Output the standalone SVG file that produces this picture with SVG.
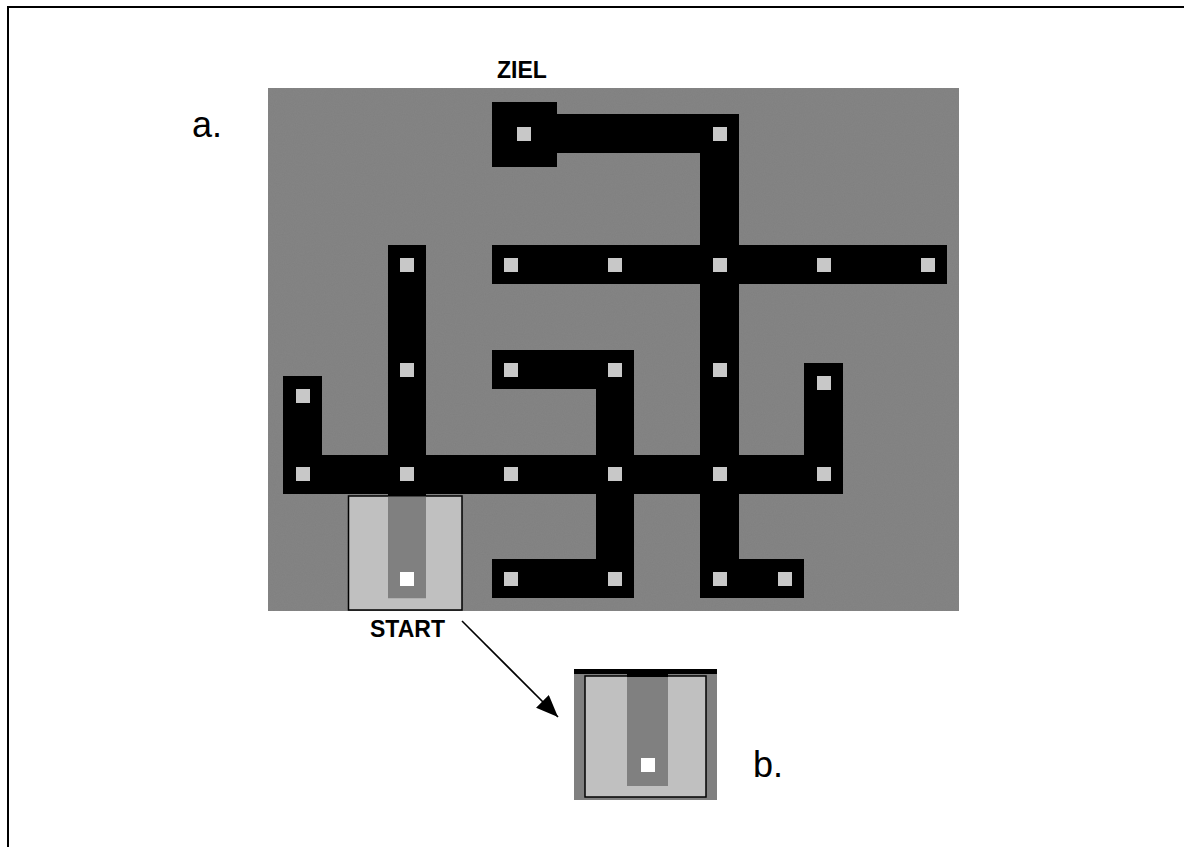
<svg xmlns="http://www.w3.org/2000/svg" width="1184" height="847" viewBox="0 0 1184 847">
<style>
.bg{fill:#808080}
.wall{fill:#000}
.dot{fill:#c8c8c8}
.lite{fill:#c0c0c0}
.lbl{font-family:"Liberation Sans",Arial,sans-serif;fill:#000}
.bold{font-weight:bold;font-size:23px}
.big{font-size:36px}
.frame{stroke:#000;stroke-width:2;fill:none}
</style>
<defs>
<filter id="noise" x="0" y="0" width="100%" height="100%">
<feTurbulence type="fractalNoise" baseFrequency="0.9" numOctaves="1" seed="3" result="t"/>
<feColorMatrix in="t" type="matrix" values="0 0 0 0 0.5  0 0 0 0 0.5  0 0 0 0 0.5  0 0 0 0.08 0" result="n"/>
<feComposite in="n" in2="SourceGraphic" operator="in" result="m"/>
<feMerge><feMergeNode in="SourceGraphic"/><feMergeNode in="m"/></feMerge>
</filter>
<marker id="ah" markerUnits="userSpaceOnUse" markerWidth="24" markerHeight="20" refX="22" refY="9" orient="auto">
<path d="M0,0 L22,9 L0,18 Z" fill="#000"/>
</marker>
</defs>
<rect width="1184" height="847" fill="#fff"/>
<path class="frame" d="M8,847 V7 H1184"/>

<g id="maze">
<rect class="bg" x="268" y="88" width="691" height="523" filter="url(#noise)"/>
<g id="ziel-piece">
<rect class="wall" x="492" y="102" width="65" height="65"/>
<rect class="wall" x="557" y="114" width="182" height="39"/>
</g>
<g id="col5-piece">
<rect class="wall" x="700" y="114" width="39" height="484"/>
<rect class="wall" x="700" y="559" width="104" height="39"/>
</g>
<g id="row2-piece">
<rect class="wall" x="492" y="245" width="455" height="39"/>
</g>
<g id="col2-piece">
<rect class="wall" x="388" y="245" width="38" height="251"/>
</g>
<g id="row4-piece">
<rect class="wall" x="283" y="376" width="39" height="118"/>
<rect class="wall" x="283" y="455" width="560" height="39"/>
</g>
<g id="col6-piece">
<rect class="wall" x="804" y="363" width="39" height="131"/>
</g>
<g id="row3-piece">
<rect class="wall" x="492" y="350" width="142" height="39"/>
<rect class="wall" x="596" y="350" width="38" height="248"/>
<rect class="wall" x="492" y="559" width="142" height="39"/>
</g>
<g id="dots">
<rect class="dot" x="517" y="127" width="14" height="14"/>
<rect class="dot" x="713" y="127" width="14" height="14"/>
<rect class="dot" x="400" y="258" width="14" height="14"/>
<rect class="dot" x="504" y="258" width="14" height="14"/>
<rect class="dot" x="608" y="258" width="14" height="14"/>
<rect class="dot" x="713" y="258" width="14" height="14"/>
<rect class="dot" x="817" y="258" width="14" height="14"/>
<rect class="dot" x="921" y="258" width="14" height="14"/>
<rect class="dot" x="400" y="363" width="14" height="14"/>
<rect class="dot" x="504" y="363" width="14" height="14"/>
<rect class="dot" x="608" y="363" width="14" height="14"/>
<rect class="dot" x="713" y="363" width="14" height="14"/>
<rect class="dot" x="296" y="389" width="14" height="14"/>
<rect class="dot" x="817" y="376" width="14" height="14"/>
<rect class="dot" x="296" y="467" width="14" height="14"/>
<rect class="dot" x="400" y="467" width="14" height="14"/>
<rect class="dot" x="504" y="467" width="14" height="14"/>
<rect class="dot" x="608" y="467" width="14" height="14"/>
<rect class="dot" x="713" y="467" width="14" height="14"/>
<rect class="dot" x="817" y="467" width="14" height="14"/>
<rect class="dot" x="504" y="572" width="14" height="14"/>
<rect class="dot" x="608" y="572" width="14" height="14"/>
<rect class="dot" x="713" y="572" width="14" height="14"/>
<rect class="dot" x="778" y="572" width="14" height="14"/>
</g>
<g id="start-box">
<rect class="lite" x="348.5" y="496" width="113.5" height="114" stroke="#000" stroke-width="1.5"/>
<rect class="bg" x="388" y="496.75" width="38" height="101.5"/>
<rect x="400" y="572" width="14" height="14" fill="#fff"/>
</g>
</g>

<g id="inset-b">
<rect class="bg" x="574" y="669" width="143" height="131"/>
<rect class="wall" x="574" y="669" width="143" height="5"/>
<rect class="wall" x="627" y="669" width="41" height="8"/>
<rect class="lite" x="585" y="676" width="121" height="121" stroke="#000" stroke-width="1.5"/>
<rect class="bg" x="627" y="676.75" width="41" height="109.25"/>
<rect class="wall" x="627" y="674" width="41" height="3"/>
<rect x="641" y="758" width="14" height="14" fill="#fff"/>
</g>

<g id="connectors">
<line x1="462" y1="621" x2="558" y2="717" stroke="#000" stroke-width="1.6" marker-end="url(#ah)"/>
</g>

<g id="labels">
<text class="lbl bold" x="497" y="78">ZIEL</text>
<text class="lbl bold" x="370" y="637">START</text>
<text class="lbl big" x="192" y="137">a.</text>
<text class="lbl big" x="753" y="777">b.</text>
</g>
</svg>
